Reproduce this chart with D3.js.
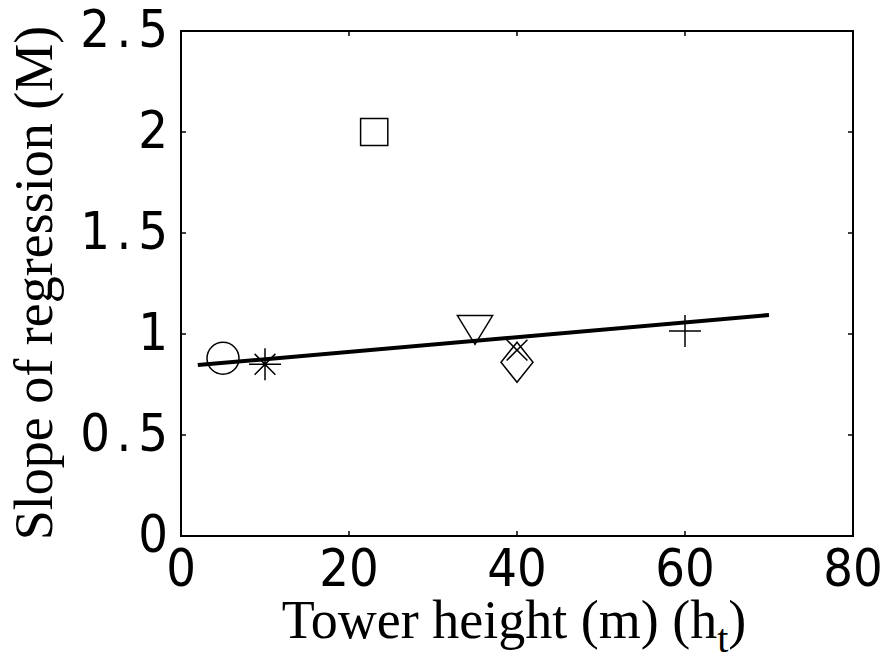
<!DOCTYPE html>
<html>
<head>
<meta charset="utf-8">
<script src="https://cdn.jsdelivr.net/npm/d3@7"></script>
<style>
  body { margin: 0; background: #fff; }
  svg { display: block; }
</style>
</head>
<body>
<div id="plot"></div>
<script>
// data
const towerHeights = [5, 10, 23, 35, 40, 40, 60];
const slopes = [0.88, 0.85, 2.0, 1.02, 0.92, 0.86, 1.015];
const markers = ["circle", "asterisk", "square", "triangleDown", "cross", "diamond", "plus"];
const fitX = [2, 70];
const fitY = [0.846, 1.094];
const xTicks = [0, 20, 40, 60, 80];
const yTicks = [0, 0.5, 1, 1.5, 2, 2.5];
const yTickLabels = ["0", "0.5", "1", "1.5", "2", "2.5"];

const W = 889, H = 667;
const margin = { top: 31, right: 36, bottom: 131, left: 181 };
const width = W - margin.left - margin.right;
const height = H - margin.top - margin.bottom;

const svg = d3.select("#plot").append("svg")
    .attr("width", W)
    .attr("height", H);

const g = svg.append("g")
    .attr("transform", "translate(" + margin.left + "," + margin.top + ")");

const x = d3.scaleLinear().domain([0, 80]).range([0, width]);
const y = d3.scaleLinear().domain([0, 2.5]).range([height, 0]);

// frame
g.append("rect")
    .attr("width", width)
    .attr("height", height)
    .attr("fill", "none")
    .attr("stroke", "#000")
    .attr("stroke-width", 2);

// small inward ticks on all four sides
const tickLen = 5;
g.append("g").selectAll("line").data(xTicks).enter().append("line")
    .attr("x1", d => x(d)).attr("x2", d => x(d))
    .attr("y1", height).attr("y2", height - tickLen)
    .attr("stroke", "#000").attr("stroke-width", 1.5);
g.append("g").selectAll("line").data(xTicks).enter().append("line")
    .attr("x1", d => x(d)).attr("x2", d => x(d))
    .attr("y1", 0).attr("y2", tickLen)
    .attr("stroke", "#000").attr("stroke-width", 1.5);
g.append("g").selectAll("line").data(yTicks).enter().append("line")
    .attr("x1", 0).attr("x2", tickLen)
    .attr("y1", d => y(d)).attr("y2", d => y(d))
    .attr("stroke", "#000").attr("stroke-width", 1.5);
g.append("g").selectAll("line").data(yTicks).enter().append("line")
    .attr("x1", width).attr("x2", width - tickLen)
    .attr("y1", d => y(d)).attr("y2", d => y(d))
    .attr("stroke", "#000").attr("stroke-width", 1.5);

// tick labels (condensed sans, fixed character pitch like the original)
const tickFont = "'DejaVu Sans Condensed', 'DejaVu Sans', sans-serif";
const pitch = 29;
g.append("g").selectAll("text").data(xTicks).enter().append("text")
    .attr("x", d => x(d))
    .attr("y", height + 50)
    .attr("text-anchor", "middle")
    .style("font-family", tickFont)
    .style("font-stretch", "condensed")
    .style("font-size", "52px")
    .text(d => d);

const yLab = g.append("g").selectAll("text").data(yTicks).enter().append("text")
    .attr("y", d => y(d) + 16)
    .attr("text-anchor", "middle")
    .style("font-family", tickFont)
    .style("font-stretch", "condensed")
    .style("font-size", "52px");
yLab.each(function (d, i) {
    const chars = yTickLabels[i].split("");
    const n = chars.length;
    const sel = d3.select(this);
    chars.forEach((c, k) => {
        sel.append("tspan")
            .attr("x", -28 - (n - k - 1) * pitch)
            .text(c);
    });
});

// regression line
g.append("line")
    .attr("x1", x(fitX[0])).attr("y1", y(fitY[0]))
    .attr("x2", x(fitX[1])).attr("y2", y(fitY[1]))
    .attr("stroke", "#000")
    .attr("stroke-width", 4);

// markers
function markerPath(type, s) {
    const p = d3.path();
    if (type === "circle") {
        p.moveTo(s, 0); p.arc(0, 0, s, 0, 2 * Math.PI);
    } else if (type === "square") {
        p.rect(-s * 0.85, -s * 0.85, s * 1.7, s * 1.7);
    } else if (type === "triangleDown") {
        p.moveTo(-s * 1.1, -s * 0.9); p.lineTo(s * 1.1, -s * 0.9); p.lineTo(0, s * 0.9); p.closePath();
    } else if (type === "diamond") {
        p.moveTo(0, -s * 1.25); p.lineTo(s, 0); p.lineTo(0, s * 1.25); p.lineTo(-s, 0); p.closePath();
    } else if (type === "plus") {
        p.moveTo(-s, 0); p.lineTo(s, 0); p.moveTo(0, -s); p.lineTo(0, s);
    } else if (type === "cross") {
        const c = s * 0.65;
        p.moveTo(-c, -c); p.lineTo(c, c); p.moveTo(-c, c); p.lineTo(c, -c);
    } else if (type === "asterisk") {
        const c = s * 0.65;
        p.moveTo(-s, 0); p.lineTo(s, 0); p.moveTo(0, -s); p.lineTo(0, s);
        p.moveTo(-c, -c); p.lineTo(c, c); p.moveTo(-c, c); p.lineTo(c, -c);
    }
    return p.toString();
}

g.append("g").selectAll("path")
    .data(towerHeights)
    .enter().append("path")
    .attr("transform", (d, i) => "translate(" + x(d) + "," + y(slopes[i]) + ")")
    .attr("d", (d, i) => markerPath(markers[i], 16))
    .attr("fill", "none")
    .attr("stroke", "#000")
    .attr("stroke-width", 1.5);

// axis titles
const labelFont = "'Liberation Serif', 'Times New Roman', serif";
svg.append("text")
    .attr("x", 514)
    .attr("y", 638)
    .attr("text-anchor", "middle")
    .style("font-family", labelFont)
    .style("font-size", "54px")
    .html("Tower height (m) (h<tspan baseline-shift='-0.35em' font-size='40px'>t</tspan>)");

svg.append("text")
    .attr("transform", "translate(52," + 283 + ") rotate(-90)")
    .attr("text-anchor", "middle")
    .style("font-family", labelFont)
    .style("font-size", "54px")
    .text("Slope of regression (M)");
</script>
</body>
</html>
